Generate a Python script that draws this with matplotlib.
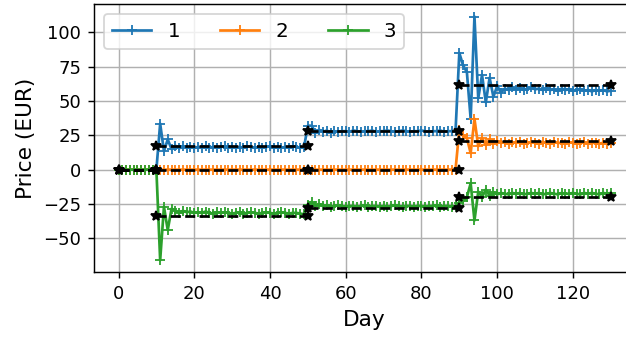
import numpy as np
import matplotlib
matplotlib.use("Agg")
import matplotlib.pyplot as plt
from matplotlib.ticker import MultipleLocator

# days and observed prices for the three products
days = np.arange(0, 131)

price_1 = [
    0, 0, 0, 0, 0, 0, 0, 0, 0, 0, 0,
    33.5, 13.5, 22, 15, 17.5, 15.5, 17, 16, 16.5, 16,
    16.5, 16, 17, 16, 16.5, 16, 16.5, 17, 16, 16.5,
    16, 16.5, 16, 17, 16.5, 16, 16.5, 16, 16.5, 17,
    16, 16.5, 16, 16.5, 16, 17, 16.5, 16, 16.5,
    32, 32, 27, 29, 27.5, 28.5, 27, 28, 27.5, 28,
    28, 27.5, 28.5, 28, 27.5, 28, 28, 28.5, 27.5, 28,
    28, 28.5, 28, 27.5, 28, 28.5, 28, 27.5, 28, 28,
    28.5, 28, 27.5, 28, 28, 28.5, 27.5, 28, 28, 28,
    85, 76, 71, 37, 111.5, 52, 69, 49, 67, 53,
    61, 56, 59, 58, 60, 58, 59.5, 58, 59, 60,
    58.5, 59, 58, 59.5, 58, 58.5, 57.5, 59, 58, 58.5,
    57.5, 58, 58.5, 57.5, 58, 57, 58, 57.5, 58, 57, 57.5,
]

price_2 = [
    0, 0, 0, 0, 0, 0, 0, 0, 0, 0,
    0, 0, 0, 0, 0, 0, 0, 0, 0, 0,
    0, 0, 0, 0, 0, 0, 0, 0, 0, 0,
    0, 0, 0, 0, 0, 0, 0, 0, 0, 0,
    0, 0, 0, 0, 0, 0, 0, 0, 0, 0,
    0, 0, 0, 0, 0, 0, 0, 0, 0, 0,
    0, 0, 0, 0, 0, 0, 0, 0, 0, 0,
    0, 0, 0, 0, 0, 0, 0, 0, 0, 0,
    0, 0, 0, 0, 0, 0, 0, 0, 0, 0,
    29, 25, 23, 12, 37, 17, 23, 18, 22, 19,
    20.5, 19.5, 20, 19, 20, 19.5, 20, 19, 19.5, 20,
    19.5, 19, 20, 19.5, 19, 20, 19.5, 19.5, 19, 20,
    19.5, 19, 19.5, 20, 19, 19.5, 19.5, 19, 19.5, 19, 19.5,
]

price_3 = [
    0, 0, 0, 0, 0, 0, 0, 0, 0, 0, 0,
    -66, -27, -44, -28.5, -30, -31.5, -30, -31, -30.5, -31.5,
    -31, -31.5, -30.5, -31.5, -32, -31, -31.5, -31, -31.5, -32,
    -31.5, -31, -32, -31.5, -31, -31.5, -32, -31.5, -31, -31.5,
    -32, -31.5, -31, -31.5, -32, -31.5, -31.5, -32, -32.5,
    -25.5, -23.5, -26.5, -25, -26.5, -26, -27, -26.5, -26, -26.5,
    -27, -26.5, -26.5, -27, -26.5, -26, -27, -26.5, -26.5, -27,
    -26.5, -27, -26.5, -26, -26.5, -27, -26.5, -26.5, -27, -26.5,
    -26.5, -27, -26.5, -26.5, -26, -27, -26.5, -26.5, -27, -26.5,
    -24, -23, -20, -10, -37, -16, -20, -14.5, -19, -16.5,
    -18, -17, -17.5, -18, -17, -17.5, -17, -18, -17.5, -17,
    -17.5, -17, -18, -17.5, -17, -17.5, -18, -17, -17.5, -17.5,
    -17, -17.5, -18, -17, -17.5, -17, -17.5, -18, -17, -17.5, -17,
]

# piecewise constant reference levels (segment bounds and level per segment)
seg_bounds = [(0, 10), (10, 50), (50, 90), (90, 130)]
ref_1 = [0, 17.5, 28, 62]
ref_2 = [0, 0, 0, 20.5]
ref_3 = [0, -34, -28, -20]

fig = plt.figure(figsize=(626 / 130, 338 / 130), dpi=130)
ax = fig.add_axes([0.150, 0.194, 0.865, 0.793])

ax.plot(days, price_1, marker='+', label='1')
ax.plot(days, price_2, marker='+', label='2')
ax.plot(days, price_3, marker='+', label='3')

for ref in (ref_1, ref_2, ref_3):
    for (a, b), level in zip(seg_bounds, ref):
        ax.plot([a, b], [level, level], 'k--', marker='*')

ax.yaxis.set_major_locator(MultipleLocator(25))
ax.grid(True)
ax.set_xlabel('Day', fontsize=12)
ax.set_ylabel('Price (EUR)', fontsize=12)
ax.tick_params(labelsize=10)
ax.legend(loc='upper left', ncol=3, fontsize=11)

fig.savefig('out.png', dpi=130)
